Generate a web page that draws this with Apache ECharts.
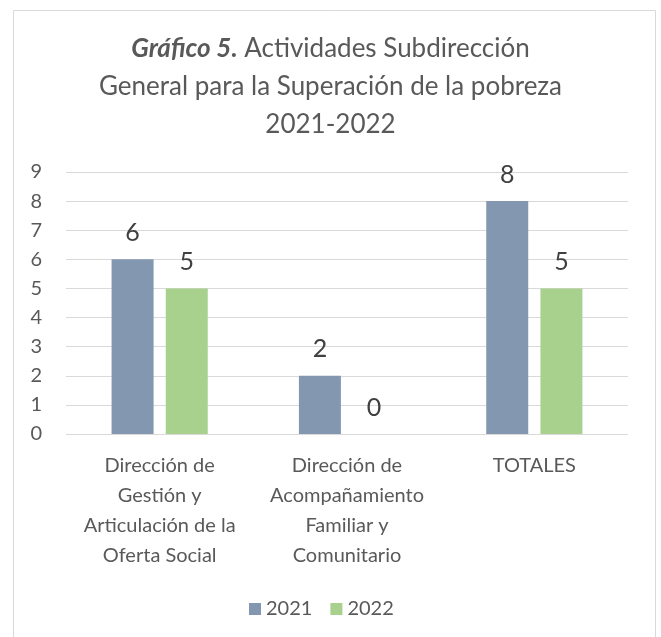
<!DOCTYPE html>
<html>
<head>
<meta charset="utf-8">
<script src="https://cdn.jsdelivr.net/npm/echarts@6/dist/echarts.min.js"></script>
<style>
  html, body { margin: 0; padding: 0; background: #fff; }
  #chart { width: 661px; height: 637px; }
</style>
</head>
<body>
<div id="chart"></div>
<script>
const categories = [
  'Dirección de\nGestión y\nArticulación de la\nOferta Social',
  'Dirección de\nAcompañamiento\nFamiliar y\nComunitario',
  'TOTALES'
];
const values2021 = [6, 2, 8];
const values2022 = [5, 0, 5];
const seriesNames = ['2021', '2022'];

const chart = echarts.init(document.getElementById('chart'));
const font = 'Lato, "Noto Sans", sans-serif';

const option = {
  backgroundColor: '#fff',
  textStyle: { fontFamily: font },
  graphic: [{
    type: 'rect',
    shape: { x: 13.5, y: 10.5, width: 642, height: 640 },
    style: { fill: 'none', stroke: '#d9d9d9', lineWidth: 1 },
    silent: true
  }],
  title: {
    text: '{b|Gráfico 5.} Actividades Subdirección\nGeneral para la Superación de la pobreza\n2021-2022',
    left: 'center',
    top: 30,
    padding: [0, 36, 0, 0],
    textStyle: {
      fontFamily: font,
      fontSize: 26,
      fontWeight: 'normal',
      color: '#595959',
      lineHeight: 38,
      align: 'center',
      rich: {
        b: { fontFamily: font, fontSize: 26, fontWeight: 'bold', fontStyle: 'italic', color: '#595959', lineHeight: 38 }
      }
    }
  },
  legend: {
    data: seriesNames,
    bottom: 18,
    left: 249,
    padding: 0,
    itemWidth: 12,
    itemHeight: 12,
    itemGap: 18,
    icon: 'rect',
    textStyle: { fontFamily: font, fontSize: 20, color: '#595959' }
  },
  grid: { left: 66, right: 33, top: 172, bottom: 203 },
  xAxis: {
    type: 'category',
    data: categories,
    axisLine: { show: false },
    axisTick: { show: false },
    axisLabel: {
      interval: 0,
      margin: 17,
      fontFamily: font,
      fontSize: 20,
      lineHeight: 30,
      color: '#595959'
    }
  },
  yAxis: {
    type: 'value',
    min: 0,
    max: 9,
    interval: 1,
    axisLine: { show: false },
    axisTick: { show: false },
    axisLabel: { margin: 24, fontFamily: font, fontSize: 20, color: '#595959' },
    splitLine: { lineStyle: { color: '#d9d9d9', width: 1 } }
  },
  series: [
    {
      name: seriesNames[0],
      type: 'bar',
      data: values2021,
      barWidth: 42,
      barGap: '29%',
      itemStyle: { color: '#8497B0' },
      label: { show: true, position: 'top', distance: 14, fontFamily: font, fontSize: 25, color: '#404040' }
    },
    {
      name: seriesNames[1],
      type: 'bar',
      data: values2022,
      barWidth: 42,
      itemStyle: { color: '#A9D18E' },
      label: { show: true, position: 'top', distance: 14, fontFamily: font, fontSize: 25, color: '#404040' }
    }
  ]
};

chart.setOption(option);
</script>
</body>
</html>
